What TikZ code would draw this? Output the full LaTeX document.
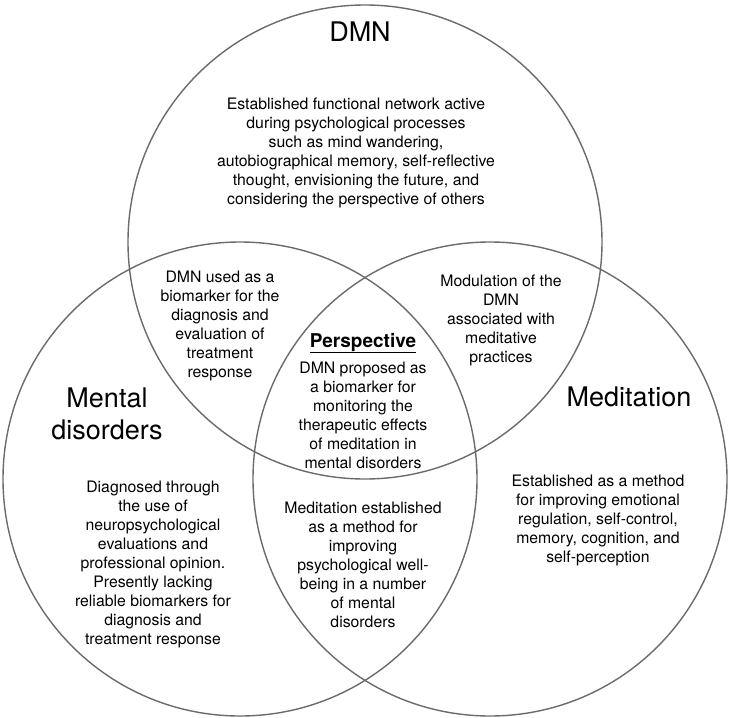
\documentclass[tikz,border=0pt]{standalone}
\usepackage{fontspec}
\setmainfont{TeX Gyre Heros}
\usepackage{tikz}

\begin{document}
\begin{tikzpicture}[x=1pt,y=-1pt,
  set/.style={circle,draw=black!58,line width=1.4pt,minimum size=474pt,inner sep=0pt},
  title/.style={align=center,font=\fontsize{27}{32}\selectfont},
  body/.style={align=center,font=\fontsize{15.8}{19}\selectfont}]
\useasboundingbox (0,0) rectangle (729,718);
% the three sets
\node [set] (dmn) at (365,242) {};
\node [set] (mental) at (240,479) {};
\node [set] (medit) at (490,479) {};
% set names
\node [title] (dmnname) at (360,32) {DMN};
\node [title] (mentalname) at (107,414) {Mental\\disorders};
\node [title] (meditname) at (629,397) {Meditation};
% only one set
\node [body] (dmnonly) at (356,153) {Established functional network active\\
  during psychological processes\\
  such as mind wandering,\\
  autobiographical memory, self-reflective\\
  thought, envisioning the future, and\\
  considering the perspective of others};
\node [body] (mentalonly) at (153,564) {Diagnosed through\\
  the use of\\
  neuropsychological\\
  evaluations and\\
  professional opinion.\\
  Presently lacking\\
  reliable biomarkers for\\
  diagnosis and\\
  treatment response};
\node [body] (meditonly) at (598,520) {Established as a method\\
  for improving emotional\\
  regulation, self-control,\\
  memory, cognition, and\\
  self-perception};
% two sets
\node [body] (dmnmental) at (220,326) {DMN used as a\\
  biomarker for the\\
  diagnosis and\\
  evaluation of\\
  treatment\\
  response};
\node [body] (dmnmedit) at (501,320) {Modulation of the\\
  DMN\\
  associated with\\
  meditative\\
  practices};
\node [body] (mentalmedit) at (363,565) {Meditation established\\
  as a method for\\
  improving\\
  psychological well-\\
  being in a number\\
  of mental\\
  disorders};
% all three
\node [font=\fontsize{19}{22}\selectfont\bfseries] (persp) at (363,343) {\underline{Perspective}};
\node [body] (all) at (363,415) {DMN proposed as\\
  a biomarker for\\
  monitoring the\\
  therapeutic effects\\
  of meditation in\\
  mental disorders};
\end{tikzpicture}
\end{document}
